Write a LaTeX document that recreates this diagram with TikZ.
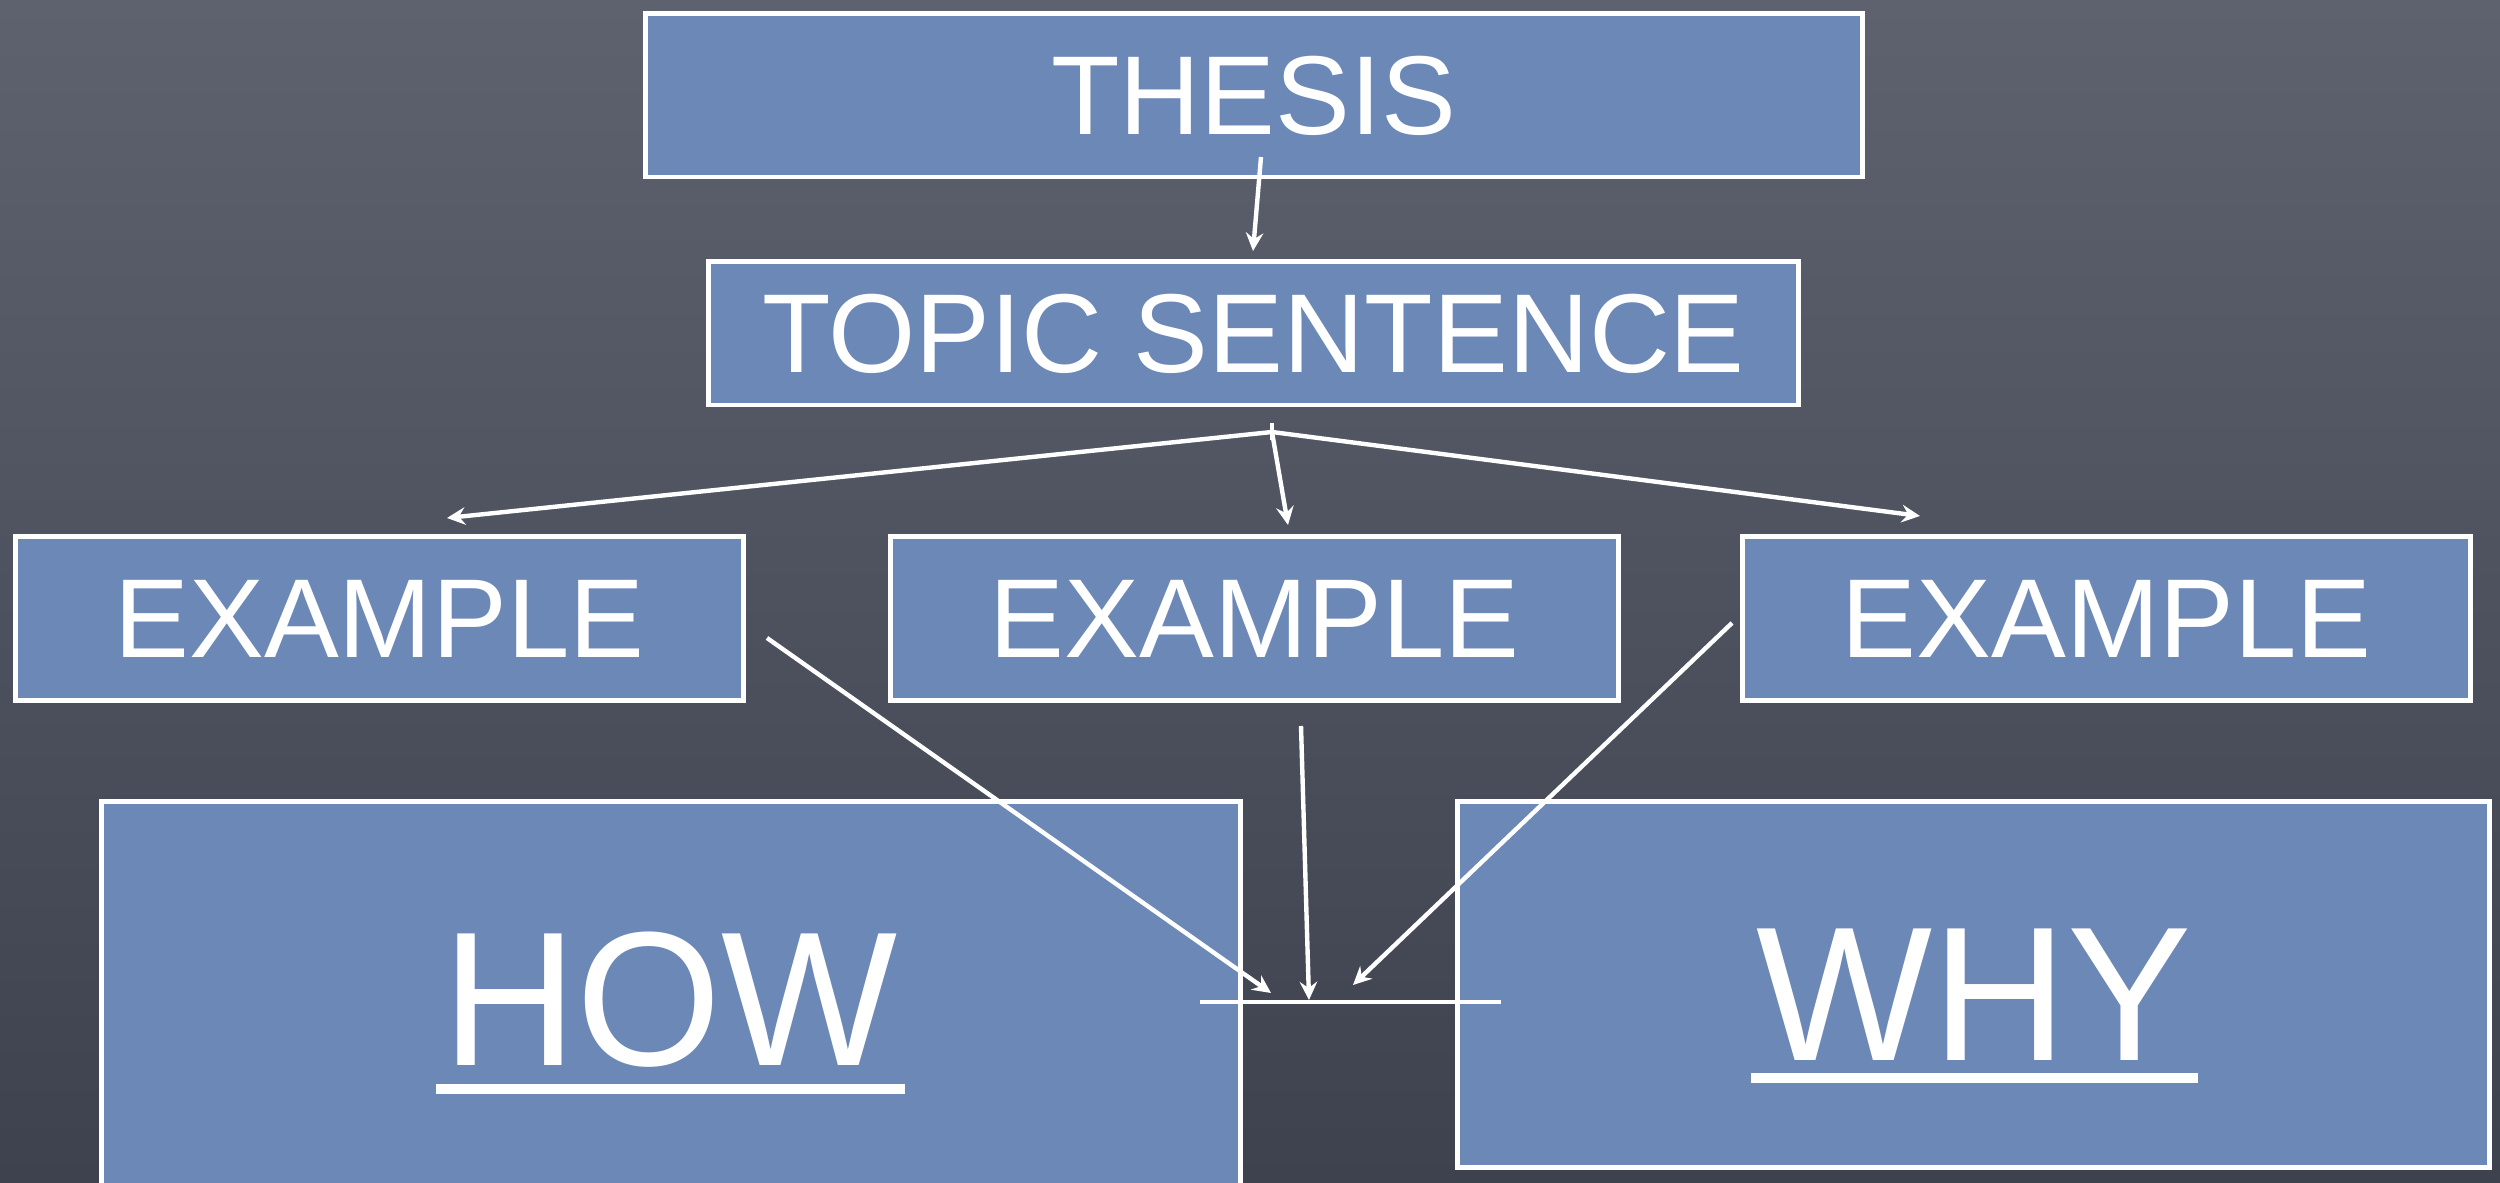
\documentclass[tikz,border=0pt]{standalone}
\usepackage{fontspec}
\setmainfont{Liberation Sans}
\usetikzlibrary{arrows.meta,calc}
\definecolor{boardtop}{RGB}{94,98,110}
\definecolor{boardbot}{RGB}{62,66,79}
\definecolor{boxblue}{RGB}{108,136,182}
\begin{document}
\begin{tikzpicture}[x=0.01cm,y=-0.01cm,
  box/.style={draw=white, line width=1.4pt, fill=boxblue, inner sep=0pt},
  lbl/.style={text=white, font=\fontsize{31.9}{32}\selectfont},
  big/.style={text=white, font=\fontsize{54.4}{55}\selectfont, inner sep=0pt, xscale=0.975},
  conn/.style={draw=white, line width=1.25pt, -{Stealth[length=5.2pt,width=5pt,inset=1.8pt]}},
  plain/.style={draw=white, line width=1.25pt},
  uline/.style={draw=white, line width=2.6pt}
  ]
\useasboundingbox (0,0) rectangle (2500,1183);
\shade[top color=boardtop, bottom color=boardbot] (0,0) rectangle (2500,1183);
\clip (0,0) rectangle (2500,1183);

% boxes
\node[box, lbl, minimum width=12.16cm, minimum height=1.63cm] (thesis) at (1254,95.5) {THESIS};
\node[box, lbl, minimum width=10.89cm, minimum height=1.43cm] (topic) at (1253.5,333.5) {TOPIC SENTENCE};
\node[box, lbl, minimum width=7.27cm, minimum height=1.63cm] (ex1) at (379.5,618.5) {EXAMPLE};
\node[box, lbl, minimum width=7.27cm, minimum height=1.63cm] (ex2) at (1254.5,618.5) {EXAMPLE};
\node[box, lbl, minimum width=7.27cm, minimum height=1.63cm] (ex3) at (2106.5,618.5) {EXAMPLE};
\node[box, minimum width=11.38cm, minimum height=3.98cm] (howbox) at (671,1001) {};
\node[box, minimum width=10.31cm, minimum height=3.65cm] (whybox) at (1973.5,984.5) {};

% big labels
\node[big, anchor=base] (how) at (670,1065) {HOW};
\node[big, anchor=base] (why) at (1974,1060) {WHY};
\draw[uline] ($(how.base west)+(-5,24)$) -- ($(how.base east)+(6,24)$);
\draw[uline] ($(why.base west)+(-5,18)$) -- ($(why.base east)+(6,18)$);

% connector end points
\coordinate (t0) at (1261,157);
\coordinate (t1) at (1253,251);
\coordinate (fan) at (1272,432);
\coordinate (e1) at (447,518);
\coordinate (e2) at (1288,525);
\coordinate (e3) at (1920,516);
\coordinate (s1) at (767,638);
\coordinate (s2) at (1301,726);
\coordinate (s3) at (1732,623);
\coordinate (m1) at (1271,993);
\coordinate (m2) at (1309,1000);
\coordinate (m3) at (1353,985);
\coordinate (hl) at (1200,1002);
\coordinate (hr) at (1501,1002);

% connectors
\draw[conn] (t0) -- (t1);
\draw[plain] ($(fan)+(0,-9)$) -- ($(fan)+(0,8)$);
\draw[conn] (fan) -- (e1);
\draw[conn] (fan) -- (e2);
\draw[conn] (fan) -- (e3);
\draw[conn] (s1) -- (m1);
\draw[conn] (s2) -- (m2);
\draw[conn] (s3) -- (m3);
\draw[plain] (hl) -- (hr);
\end{tikzpicture}
\end{document}
